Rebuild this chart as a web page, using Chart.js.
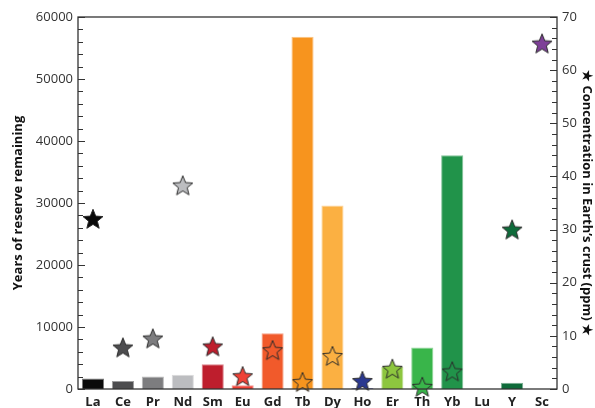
<!DOCTYPE html>
<html><head><meta charset="utf-8">
<script src="https://cdn.jsdelivr.net/npm/chart.js@4"></script>
<style>html,body{margin:0;padding:0;background:#fff}</style>
</head><body>
<canvas id="c" width="595" height="408" style="display:block;width:595px;height:408px"></canvas>
<script>
const elements = ['La','Ce','Pr','Nd','Sm','Eu','Gd','Tb','Dy','Ho','Er','Th','Yb','Lu','Y','Sc'];
const reserveYears = [1700,1300,2000,2300,4000,600,9000,56800,29600,150,3600,6700,37700,0,1000,0];
const crustPpm = [32,7.8,9.5,38.3,8,2.4,7.3,1.3,6.2,1.5,3.8,0.4,3.3,null,30,65];
const elementColors = ['#0a0a0a','#4d4d4f','#7d7d7f','#bcbdc0','#be1e2d','#ef4136','#f15a2b','#f7941e','#fbb042','#2b3990','#8dc63f','#39b54a','#21934a','#cccccc','#0e6b3a','#7e3f98'];
const leftMax = 60000, leftStep = 10000, leftMinor = 2000;
const rightMax = 70, rightStep = 10, rightMinor = 2;

function lighten(hex, f){
  const n = parseInt(hex.slice(1),16);
  let r=(n>>16)&255,g=(n>>8)&255,b=n&255;
  r=Math.round(r+(255-r)*f);g=Math.round(g+(255-g)*f);b=Math.round(b+(255-b)*f);
  return `rgb(${r},${g},${b})`;
}
function starImage(color){
  const s = 24, cv = document.createElement('canvas');
  cv.width = s; cv.height = s;
  const c = cv.getContext('2d');
  const R = 10.5, r = 4.6, cx = s/2, cy = s/2 + 0.8;
  c.beginPath();
  for (let i=0;i<10;i++){
    const a = -Math.PI/2 + i*Math.PI/5;
    const rad = i%2===0 ? R : r;
    const x = cx + rad*Math.cos(a), y = cy + rad*Math.sin(a);
    i===0 ? c.moveTo(x,y) : c.lineTo(x,y);
  }
  c.closePath();
  c.fillStyle = color; c.fill();
  c.lineWidth = 1; c.strokeStyle = '#2b2b2b'; c.stroke();
  return cv;
}
const starStyles = elementColors.map(starImage);

const framePlugin = {
  id: 'frame',
  afterDraw(chart){
    const {ctx, chartArea: a, scales} = chart;
    ctx.save();
    ctx.strokeStyle = '#333'; ctx.lineWidth = 1.3;
    ctx.strokeRect(a.left, a.top, a.right - a.left, a.bottom - a.top);
    ctx.lineWidth = 1;
    for (let v=0; v<=leftMax; v+=leftMinor){
      const y = Math.round(scales.y.getPixelForValue(v))+0.5;
      const len = v % leftStep === 0 ? 7 : 5;
      ctx.beginPath(); ctx.moveTo(a.left, y); ctx.lineTo(a.left+len, y); ctx.stroke();
    }
    for (let v=0; v<=rightMax; v+=rightMinor){
      const y = Math.round(scales.y1.getPixelForValue(v))+0.5;
      const len = v % rightStep === 0 ? 7 : 5;
      ctx.beginPath(); ctx.moveTo(a.right, y); ctx.lineTo(a.right-len, y); ctx.stroke();
    }
    ctx.restore();
  }
};

const font = 'Open Sans';
new Chart(document.getElementById('c'), {
  data: {
    labels: elements,
    datasets: [
      {
        type: 'line', label: 'Concentration', data: crustPpm, yAxisID: 'y1',
        showLine: false, pointStyle: starStyles, pointRadius: 10, pointHoverRadius: 10,
        clip: false, order: 0
      },
      {
        type: 'bar', label: 'Years', data: reserveYears, yAxisID: 'y',
        backgroundColor: elementColors, borderColor: elementColors.map(c=>lighten(c,0.45)),
        borderWidth: 1, borderSkipped: 'bottom',
        barPercentage: 0.74, categoryPercentage: 1.0, order: 1
      }
    ]
  },
  options: {
    responsive: false, animation: false, devicePixelRatio: 1,
    layout: { padding: { top: 17, left: 0, right: 0, bottom: 0 } },
    plugins: { legend: { display: false }, tooltip: { enabled: false } },
    scales: {
      x: {
        type: 'category', offset: true,
        grid: { display: false, drawTicks: false },
        border: { display: false },
        ticks: { color: '#222', padding: 5, font: { family: font, size: 13, weight: 'bold' }, maxRotation: 0, autoSkip: false },
        afterFit(s){ s.height = 19; }
      },
      y: {
        position: 'left', min: 0, max: leftMax,
        grid: { display: false, drawTicks: false },
        border: { display: false },
        ticks: { stepSize: leftStep, color: '#333', padding: 5, font: { family: font, size: 13 }, callback: v => String(v) },
        title: { display: true, text: 'Years of reserve remaining', color: '#111', font: { family: font, size: 13, weight: 'bold' }, padding: { top: 10, bottom: 0 } },
        afterFit(s){ s.width = 78; }
      },
      y1: {
        position: 'right', min: 0, max: rightMax,
        grid: { display: false, drawTicks: false },
        border: { display: false },
        ticks: { stepSize: rightStep, color: '#333', padding: 5, font: { family: font, size: 13 }, callback: v => String(v) },
        title: { display: true, text: '★ Concentration in Earth’s crust (ppm) ★', color: '#111', font: { family: font, size: 13, weight: 'bold' }, padding: { top: 0, bottom: 0 } },
        afterFit(s){ s.width = 38; }
      }
    }
  },
  plugins: [framePlugin]
});
</script>
</body></html>
